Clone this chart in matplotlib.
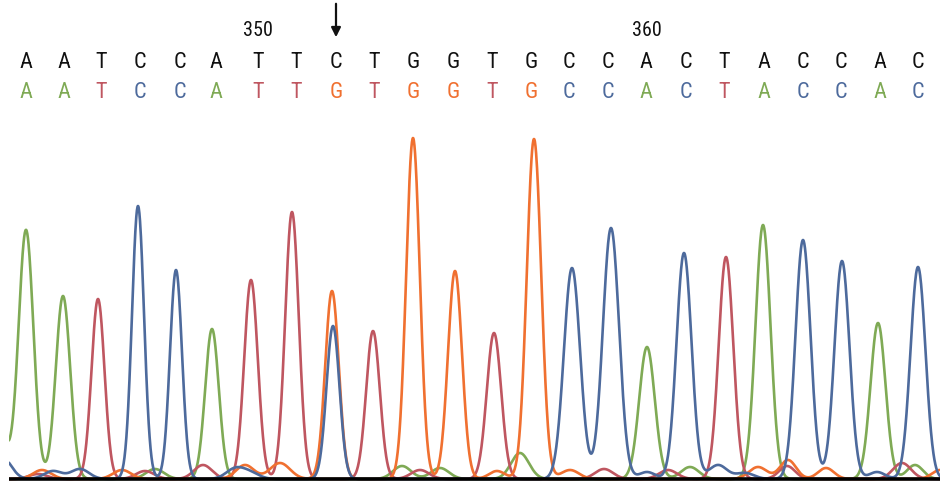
import numpy as np
import matplotlib
matplotlib.use("Agg")
import matplotlib.pyplot as plt
from matplotlib.transforms import blended_transform_factory

# -- base calls --------------------------------------------------------------
ref_seq = list("AATCCATTCTGGTGCCACTACCAC")
sample_seq = list("AATCCATTGTGGTGCCACTACCAC")
call_pos = [26, 64, 101, 140, 180, 216, 258, 296, 336, 374, 413, 453,
            492, 531, 569, 608, 646, 686, 724, 764, 803, 841, 880, 918]
pos_labels = {"350": 258, "360": 647}
arrow_pos = 336

# -- main peaks: (scan position, height, width) per dye -----------------------
peaks_A = [(26, 249, 7.4), (63, 183, 7.2), (212, 150, 6.8), (647, 132, 7.8),
           (763, 254, 7.5), (878, 156, 7.5)]
peaks_C = [(138, 273, 6.0), (176, 209, 6.0), (333, 153, 6.5), (572, 211, 8.1),
           (611, 251, 8.1), (684, 226, 7.5), (803, 239, 7.5), (842, 218, 7.5),
           (918, 212, 7.5)]
peaks_G = [(332, 188, 6.8), (413, 341, 6.8), (455, 208, 7.0), (534, 340, 7.2)]
peaks_T = [(98, 180, 6.5), (251, 199, 6.8), (292, 267, 6.8), (373, 148, 6.8),
           (494, 146, 7.2), (726, 222, 7.3)]

# -- small background bumps ---------------------------------------------------
noise_A = [(-5, 70, 9), (155, 10, 9), (402, 13, 9), (440, 11, 9),
           (520, 26, 9), (690, 12, 9), (915, 14, 8)]
noise_C = [(2, 22, 9), (53, 8, 9), (80, 10, 9), (235, 10, 9), (250, 6, 9),
           (647, 7, 8), (718, 14, 9), (745, 6, 9), (877, 7, 8)]
noise_G = [(42, 9, 9), (122, 9, 9), (245, 14, 9), (280, 16, 10), (497, 8, 8),
           (570, 9, 9), (758, 12, 9), (788, 19, 8), (826, 11, 8), (940, 9, 8)]
noise_T = [(38, 5, 9), (145, 8, 9), (203, 14, 9), (420, 9, 9), (604, 10, 9),
           (668, 9, 9), (787, 13, 8), (902, 16, 9)]

colors = {"A": "#7FAA55", "C": "#4D6A9C", "G": "#F07030", "T": "#BF5660"}

x = np.linspace(9, 940, 3000)


def trace(peaks):
    y = np.zeros_like(x)
    for p, h, s in peaks:
        y += h * np.exp(-(x - p) ** 2 / (2 * s ** 2))
    return y


fig = plt.figure(figsize=(9.45, 4.86), dpi=100)
ax = fig.add_axes([9 / 945, 5 / 486, 931 / 945, 351 / 486])

for base, pk, nz in [("A", peaks_A, noise_A), ("T", peaks_T, noise_T),
                     ("G", peaks_G, noise_G), ("C", peaks_C, noise_C)]:
    ax.plot(x, trace(pk + nz), color=colors[base], lw=1.9,
            solid_capstyle="round")

ax.axhline(0, color="black", lw=2.6, zorder=5)
ax.set_xlim(9, 940)
ax.set_ylim(-2, 349)
ax.axis("off")

# -- sequence text above the traces -------------------------------------------
tr = blended_transform_factory(ax.transData, fig.transFigure)
font = ["Roboto Condensed", "Liberation Sans Narrow", "Roboto", "DejaVu Sans"]
for b, p in zip(ref_seq, call_pos):
    ax.text(p, 1 - 63 / 486, b, transform=tr, ha="center", va="center",
            fontsize=16, family=font, color="#111111", clip_on=False)
for b, p in zip(sample_seq, call_pos):
    ax.text(p, 1 - 93 / 486, b, transform=tr, ha="center", va="center",
            fontsize=16, family=font, color=colors[b], clip_on=False)
for lab, p in pos_labels.items():
    ax.text(p, 1 - 30 / 486, lab, transform=tr, ha="center", va="center",
            fontsize=14.5, family=font, color="#111111", clip_on=False)

ax.annotate("", xy=(arrow_pos, 1 - 40 / 486), xytext=(arrow_pos, 1 - 1 / 486),
            xycoords=tr, textcoords=tr,
            arrowprops=dict(arrowstyle="-|>", color="#111111", lw=1.6,
                            mutation_scale=14))

plt.savefig("out.png", dpi=100)
plt.close()
